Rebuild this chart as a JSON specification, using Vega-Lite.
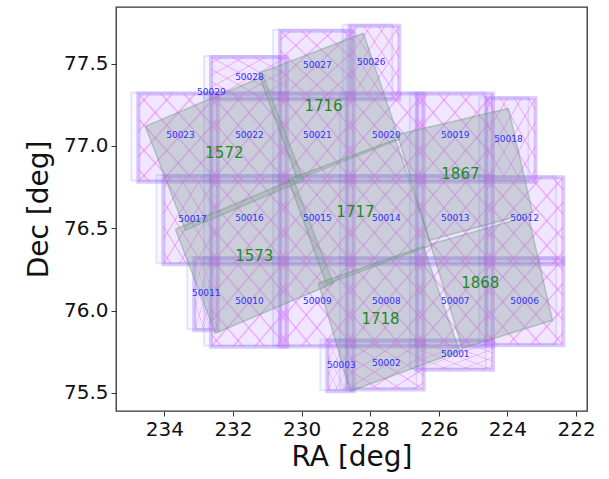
{
  "$schema": "https://vega.github.io/schema/vega-lite/v6.json",
  "width": 471,
  "height": 404,
  "autosize": {"type": "none"},
  "padding": {"left": 116, "top": 7, "right": 22, "bottom": 68},
  "background": "white",
  "config": {
    "view": {"stroke": "#333333", "strokeWidth": 1.3},
    "font": "DejaVu Sans",
    "axis": {
      "grid": false,
      "domain": false,
      "tickColor": "#333333",
      "tickSize": 5,
      "labelFontSize": 20,
      "labelColor": "#111111",
      "labelPadding": 3,
      "titleFontSize": 28,
      "titleFontWeight": "normal",
      "titleColor": "#111111",
      "labelFlush": false
    }
  },
  "datasets": {
    "fields": [
      {"id": "50028", "r1": 232.64, "r2": 230.43, "d1": 77.282, "d2": 77.54, "lr": 231.52, "ld": 77.42},
      {"id": "50027", "r1": 230.63, "r2": 228.48, "d1": 77.282, "d2": 77.70, "lr": 229.54, "ld": 77.489},
      {"id": "50026", "r1": 228.6, "r2": 227.15, "d1": 77.282, "d2": 77.73, "lr": 227.97, "ld": 77.507},
      {"id": "50023", "r1": 234.76, "r2": 232.44, "d1": 76.782, "d2": 77.318, "lr": 233.53, "ld": 77.066},
      {"id": "50022", "r1": 232.64, "r2": 230.43, "d1": 76.782, "d2": 77.318, "lr": 231.52, "ld": 77.066},
      {"id": "50021", "r1": 230.63, "r2": 228.48, "d1": 76.782, "d2": 77.318, "lr": 229.54, "ld": 77.066},
      {"id": "50020", "r1": 228.68, "r2": 226.44, "d1": 76.782, "d2": 77.318, "lr": 227.53, "ld": 77.066},
      {"id": "50019", "r1": 226.64, "r2": 224.42, "d1": 76.782, "d2": 77.318, "lr": 225.52, "ld": 77.066},
      {"id": "50018", "r1": 224.62, "r2": 223.18, "d1": 76.782, "d2": 77.29, "lr": 223.97, "ld": 77.04},
      {"id": "50017", "r1": 234.03, "r2": 232.44, "d1": 76.282, "d2": 76.818, "lr": 233.18, "ld": 76.554},
      {"id": "50016", "r1": 232.64, "r2": 230.43, "d1": 76.282, "d2": 76.818, "lr": 231.52, "ld": 76.56},
      {"id": "50015", "r1": 230.63, "r2": 228.48, "d1": 76.282, "d2": 76.818, "lr": 229.54, "ld": 76.56},
      {"id": "50014", "r1": 228.68, "r2": 226.44, "d1": 76.282, "d2": 76.818, "lr": 227.53, "ld": 76.56},
      {"id": "50013", "r1": 226.64, "r2": 224.42, "d1": 76.282, "d2": 76.818, "lr": 225.52, "ld": 76.56},
      {"id": "50012", "r1": 224.62, "r2": 222.37, "d1": 76.282, "d2": 76.81, "lr": 223.5, "ld": 76.56},
      {"id": "50011", "r1": 233.13, "r2": 232.44, "d1": 75.88, "d2": 76.318, "lr": 232.78, "ld": 76.105},
      {"id": "50010", "r1": 232.64, "r2": 230.43, "d1": 75.78, "d2": 76.318, "lr": 231.52, "ld": 76.056},
      {"id": "50009", "r1": 230.63, "r2": 228.48, "d1": 75.782, "d2": 76.318, "lr": 229.54, "ld": 76.056},
      {"id": "50008", "r1": 228.68, "r2": 226.44, "d1": 75.782, "d2": 76.318, "lr": 227.53, "ld": 76.056},
      {"id": "50007", "r1": 226.64, "r2": 224.42, "d1": 75.782, "d2": 76.318, "lr": 225.52, "ld": 76.056},
      {"id": "50006", "r1": 224.62, "r2": 222.37, "d1": 75.79, "d2": 76.318, "lr": 223.5, "ld": 76.056},
      {"id": "50003", "r1": 229.25, "r2": 228.48, "d1": 75.51, "d2": 75.818, "lr": 228.84, "ld": 75.668},
      {"id": "50002", "r1": 228.68, "r2": 226.44, "d1": 75.52, "d2": 75.818, "lr": 227.53, "ld": 75.68},
      {"id": "50001", "r1": 226.64, "r2": 224.42, "d1": 75.64, "d2": 75.818, "lr": 225.52, "ld": 75.735}
    ],
    "extra": [
      {"id": "50029", "lr": 232.63, "ld": 77.327}
    ],
    "polys": [
      {"g": "1572", "k": 0, "ra": 234.554, "dec": 77.119},
      {"g": "1572", "k": 1, "ra": 231.114, "dec": 77.423},
      {"g": "1572", "k": 2, "ra": 229.947, "dec": 76.791},
      {"g": "1572", "k": 3, "ra": 233.388, "dec": 76.488},
      {"g": "1572", "k": 4, "ra": 234.554, "dec": 77.119},
      {"g": "1573", "k": 0, "ra": 233.679, "dec": 76.494},
      {"g": "1573", "k": 1, "ra": 230.239, "dec": 76.797},
      {"g": "1573", "k": 2, "ra": 229.073, "dec": 76.166},
      {"g": "1573", "k": 3, "ra": 232.513, "dec": 75.862},
      {"g": "1573", "k": 4, "ra": 233.679, "dec": 76.494},
      {"g": "1716", "k": 0, "ra": 231.259, "dec": 77.441},
      {"g": "1716", "k": 1, "ra": 228.198, "dec": 77.684},
      {"g": "1716", "k": 2, "ra": 227.149, "dec": 77.04},
      {"g": "1716", "k": 3, "ra": 230.122, "dec": 76.797},
      {"g": "1716", "k": 4, "ra": 231.259, "dec": 77.441},
      {"g": "1717", "k": 0, "ra": 230.385, "dec": 76.797},
      {"g": "1717", "k": 1, "ra": 227.265, "dec": 77.04},
      {"g": "1717", "k": 2, "ra": 226.216, "dec": 76.397},
      {"g": "1717", "k": 3, "ra": 229.277, "dec": 76.16},
      {"g": "1717", "k": 4, "ra": 230.385, "dec": 76.797},
      {"g": "1718", "k": 0, "ra": 229.51, "dec": 76.166},
      {"g": "1718", "k": 1, "ra": 226.449, "dec": 76.39},
      {"g": "1718", "k": 2, "ra": 225.399, "dec": 75.753},
      {"g": "1718", "k": 3, "ra": 228.577, "dec": 75.51},
      {"g": "1718", "k": 4, "ra": 229.51, "dec": 76.166},
      {"g": "1867", "k": 0, "ra": 227.207, "dec": 77.07},
      {"g": "1867", "k": 1, "ra": 223.971, "dec": 77.228},
      {"g": "1867", "k": 2, "ra": 223.271, "dec": 76.597},
      {"g": "1867", "k": 3, "ra": 226.274, "dec": 76.427},
      {"g": "1867", "k": 4, "ra": 227.207, "dec": 77.07},
      {"g": "1868", "k": 0, "ra": 226.245, "dec": 76.403},
      {"g": "1868", "k": 1, "ra": 223.388, "dec": 76.573},
      {"g": "1868", "k": 2, "ra": 222.688, "dec": 75.941},
      {"g": "1868", "k": 3, "ra": 225.312, "dec": 75.771},
      {"g": "1868", "k": 4, "ra": 226.245, "dec": 76.403}
    ],
    "groups": [
      {"id": "1572", "ra": 232.25, "dec": 76.955},
      {"id": "1573", "ra": 231.38, "dec": 76.33},
      {"id": "1716", "ra": 229.36, "dec": 77.24},
      {"id": "1717", "ra": 228.43, "dec": 76.597},
      {"id": "1718", "ra": 227.7, "dec": 75.947},
      {"id": "1867", "ra": 225.37, "dec": 76.828},
      {"id": "1868", "ra": 224.79, "dec": 76.17}
    ]
  },
  "layer": [
    {
      "data": {"name": "fields"},
      "mark": {"type": "rect", "fill": "#c070ff", "fillOpacity": 0.13, "stroke": "#9c6af0", "strokeWidth": 4, "strokeOpacity": 0.34},
      "encoding": {
        "x": {"field": "r1", "type": "quantitative", "scale": {"domain": [221.68, 235.41], "reverse": true, "nice": false, "zero": false}, "axis": {"values": [222, 224, 226, 228, 230, 232, 234], "title": "RA [deg]", "titlePadding": 4}},
        "x2": {"field": "r2"},
        "y": {"field": "d1", "type": "quantitative", "scale": {"domain": [75.39, 77.844], "nice": false, "zero": false}, "axis": {"values": [75.5, 76, 76.5, 77, 77.5], "format": ".1f", "title": "Dec [deg]", "titlePadding": 10}},
        "y2": {"field": "d2"}
      }
    },
    {
      "data": {"name": "fields"},
      "mark": {"type": "rect", "fill": "#7070ff", "fillOpacity": 0.05, "stroke": "#7a7aff", "strokeWidth": 2, "strokeOpacity": 0.18, "xOffset": -7, "x2Offset": -7, "yOffset": -1, "y2Offset": -1},
      "encoding": {
        "x": {"field": "r1", "type": "quantitative"},
        "x2": {"field": "r2"},
        "y": {"field": "d1", "type": "quantitative"},
        "y2": {"field": "d2"}
      }
    },
    {
      "data": {"name": "fields"},
      "mark": {"type": "rect", "fill": {"gradient": "linear", "x1": 0, "y1": 0, "x2": 1, "y2": 1, "stops": [
        {"offset": 0, "color": "rgba(228,110,245,0)"},
        {"offset": 0.061, "color": "rgba(228,110,245,0)"}, {"offset": 0.067, "color": "rgba(228,110,245,0.4)"}, {"offset": 0.076, "color": "rgba(228,110,245,0.4)"}, {"offset": 0.082, "color": "rgba(228,110,245,0)"},
        {"offset": 0.204, "color": "rgba(228,110,245,0)"}, {"offset": 0.21, "color": "rgba(228,110,245,0.4)"}, {"offset": 0.219, "color": "rgba(228,110,245,0.4)"}, {"offset": 0.225, "color": "rgba(228,110,245,0)"},
        {"offset": 0.347, "color": "rgba(228,110,245,0)"}, {"offset": 0.353, "color": "rgba(228,110,245,0.4)"}, {"offset": 0.362, "color": "rgba(228,110,245,0.4)"}, {"offset": 0.368, "color": "rgba(228,110,245,0)"},
        {"offset": 0.49, "color": "rgba(228,110,245,0)"}, {"offset": 0.496, "color": "rgba(228,110,245,0.4)"}, {"offset": 0.505, "color": "rgba(228,110,245,0.4)"}, {"offset": 0.511, "color": "rgba(228,110,245,0)"},
        {"offset": 0.633, "color": "rgba(228,110,245,0)"}, {"offset": 0.639, "color": "rgba(228,110,245,0.4)"}, {"offset": 0.648, "color": "rgba(228,110,245,0.4)"}, {"offset": 0.654, "color": "rgba(228,110,245,0)"},
        {"offset": 0.776, "color": "rgba(228,110,245,0)"}, {"offset": 0.782, "color": "rgba(228,110,245,0.4)"}, {"offset": 0.791, "color": "rgba(228,110,245,0.4)"}, {"offset": 0.797, "color": "rgba(228,110,245,0)"},
        {"offset": 0.918, "color": "rgba(228,110,245,0)"}, {"offset": 0.924, "color": "rgba(228,110,245,0.4)"}, {"offset": 0.933, "color": "rgba(228,110,245,0.4)"}, {"offset": 0.939, "color": "rgba(228,110,245,0)"},
        {"offset": 1, "color": "rgba(228,110,245,0)"}
      ]}},
      "encoding": {
        "x": {"field": "r1", "type": "quantitative"},
        "x2": {"field": "r2"},
        "y": {"field": "d1", "type": "quantitative"},
        "y2": {"field": "d2"}
      }
    },
    {
      "data": {"name": "fields"},
      "mark": {"type": "rect", "fill": {"gradient": "linear", "x1": 1, "y1": 0, "x2": 0, "y2": 1, "stops": [
        {"offset": 0, "color": "rgba(228,110,245,0)"},
        {"offset": 0.061, "color": "rgba(228,110,245,0)"}, {"offset": 0.067, "color": "rgba(228,110,245,0.4)"}, {"offset": 0.076, "color": "rgba(228,110,245,0.4)"}, {"offset": 0.082, "color": "rgba(228,110,245,0)"},
        {"offset": 0.204, "color": "rgba(228,110,245,0)"}, {"offset": 0.21, "color": "rgba(228,110,245,0.4)"}, {"offset": 0.219, "color": "rgba(228,110,245,0.4)"}, {"offset": 0.225, "color": "rgba(228,110,245,0)"},
        {"offset": 0.347, "color": "rgba(228,110,245,0)"}, {"offset": 0.353, "color": "rgba(228,110,245,0.4)"}, {"offset": 0.362, "color": "rgba(228,110,245,0.4)"}, {"offset": 0.368, "color": "rgba(228,110,245,0)"},
        {"offset": 0.49, "color": "rgba(228,110,245,0)"}, {"offset": 0.496, "color": "rgba(228,110,245,0.4)"}, {"offset": 0.505, "color": "rgba(228,110,245,0.4)"}, {"offset": 0.511, "color": "rgba(228,110,245,0)"},
        {"offset": 0.633, "color": "rgba(228,110,245,0)"}, {"offset": 0.639, "color": "rgba(228,110,245,0.4)"}, {"offset": 0.648, "color": "rgba(228,110,245,0.4)"}, {"offset": 0.654, "color": "rgba(228,110,245,0)"},
        {"offset": 0.776, "color": "rgba(228,110,245,0)"}, {"offset": 0.782, "color": "rgba(228,110,245,0.4)"}, {"offset": 0.791, "color": "rgba(228,110,245,0.4)"}, {"offset": 0.797, "color": "rgba(228,110,245,0)"},
        {"offset": 0.918, "color": "rgba(228,110,245,0)"}, {"offset": 0.924, "color": "rgba(228,110,245,0.4)"}, {"offset": 0.933, "color": "rgba(228,110,245,0.4)"}, {"offset": 0.939, "color": "rgba(228,110,245,0)"},
        {"offset": 1, "color": "rgba(228,110,245,0)"}
      ]}},
      "encoding": {
        "x": {"field": "r1", "type": "quantitative"},
        "x2": {"field": "r2"},
        "y": {"field": "d1", "type": "quantitative"},
        "y2": {"field": "d2"}
      }
    },
    {
      "data": {"name": "polys"},
      "mark": {"type": "line", "fill": "#8aa09a", "fillOpacity": 0.36, "stroke": "#5a8f68", "strokeOpacity": 0.35, "strokeWidth": 1.5},
      "encoding": {
        "x": {"field": "ra", "type": "quantitative"},
        "y": {"field": "dec", "type": "quantitative"},
        "detail": {"field": "g"},
        "order": {"field": "k", "type": "quantitative"}
      }
    },
    {
      "data": {"name": "fields"},
      "mark": {"type": "text", "fontSize": 9, "color": "#2f2fff"},
      "encoding": {
        "x": {"field": "lr", "type": "quantitative"},
        "y": {"field": "ld", "type": "quantitative"},
        "text": {"field": "id"}
      }
    },
    {
      "data": {"name": "extra"},
      "mark": {"type": "text", "fontSize": 9, "color": "#2f2fff"},
      "encoding": {
        "x": {"field": "lr", "type": "quantitative"},
        "y": {"field": "ld", "type": "quantitative"},
        "text": {"field": "id"}
      }
    },
    {
      "data": {"name": "groups"},
      "mark": {"type": "text", "fontSize": 15, "color": "#1e8a1e"},
      "encoding": {
        "x": {"field": "ra", "type": "quantitative"},
        "y": {"field": "dec", "type": "quantitative"},
        "text": {"field": "id"}
      }
    }
  ]
}
